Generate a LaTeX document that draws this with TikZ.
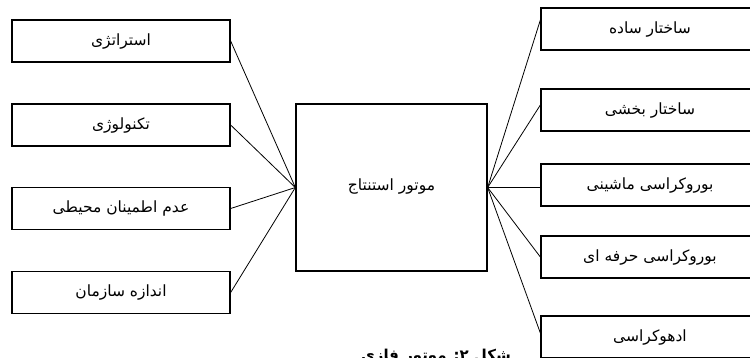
\documentclass[tikz,border=0pt]{standalone}
\usepackage{fontspec}
\newfontfamily\arabicfont[Script=Arabic]{DejaVu Sans}
\TeXXeTstate=1
\tikzset{
  box/.style={draw=black, line width=1.3pt, minimum width=218pt, minimum height=42pt, inner sep=0pt, font=\arabicfont\fontsize{15.5}{18}\selectfont},
  bigbox/.style={box, minimum width=191pt, minimum height=167pt},
  link/.style={draw=black, line width=0.8pt},
  caption/.style={inner sep=0pt, font=\arabicfont\bfseries\fontsize{15}{18}\selectfont}
}
\begin{document}
\begin{tikzpicture}[x=1pt,y=-1pt]
\useasboundingbox (0,0) rectangle (750,357);
\fill[white] (0,0) rectangle (750,357);
\clip (0,0) rectangle (750,357);
% left boxes
\node[box] (l1) at (121,41)    {\beginR استراتژی\endR};
\node[box] (l2) at (121,125)   {\beginR تکنولوژی\endR};
\node[box] (l3) at (121,208.5) {\beginR عدم اطمینان محیطی\endR};
\node[box] (l4) at (121,292.5) {\beginR اندازه سازمان\endR};
% center
\node[bigbox] (c) at (391.5,187.5) {\raisebox{5pt}{\beginR موتور استنتاج\endR}};
% right boxes
\node[box] (r1) at (650,29)  {\beginR ساختار ساده\endR};
\node[box] (r2) at (650,110) {\beginR ساختار بخشی\endR};
\node[box] (r3) at (650,185) {\beginR بوروکراسی ماشینی\endR};
\node[box] (r4) at (650,257) {\beginR بوروکراسی حرفه ای\endR};
\node[box] (r5) at (650,337) {\beginR ادهوکراسی\endR};
% caption (cut by the lower edge, as in the reference)
\node[caption, anchor=north] (cap) at (436,349) {\beginR شکل ۲: موتور فازی\endR};
% connectors
\foreach \i in {1,2,3,4} \draw[link] (l\i.east) -- (c.west);
\draw[link] (c.east) -- ([yshift=9pt]r1.west);
\draw[link] (c.east) -- ([yshift=5pt]r2.west);
\draw[link] (c.east) -- (c.east -| r3.west);
\draw[link] (c.east) -- (r4.west);
\draw[link] (c.east) -- ([yshift=4pt]r5.west);
\end{tikzpicture}
\end{document}
